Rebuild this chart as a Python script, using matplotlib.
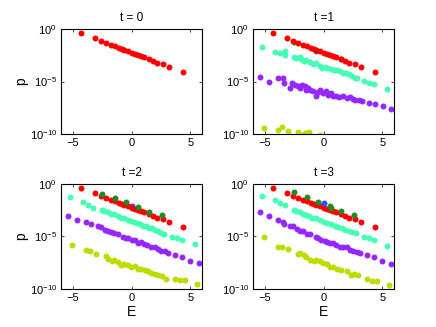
import numpy as np
import matplotlib
matplotlib.use("Agg")
import matplotlib.pyplot as plt

plt.rcParams['font.family'] = ['Liberation Sans', 'DejaVu Sans']
plt.rcParams['mathtext.fontset'] = 'custom'
plt.rcParams['mathtext.rm'] = 'Liberation Sans'
plt.rcParams['mathtext.it'] = 'Liberation Sans:italic'

# ---- data: energy E and log10(p) for each state group ----
red_E = [-4.26, -3.10, -2.56, -2.16, -1.73, -1.42, -1.05, -0.82, -0.60, -0.31, 0.03,
         0.31, 0.54, 0.77, 1.05, 1.45, 1.79, 2.19, 2.64, 3.21, 4.35]
red_logp = [-0.38, -0.90, -1.15, -1.35, -1.51, -1.63, -1.79, -1.92, -1.99, -2.08, -2.24,
            -2.37, -2.44, -2.56, -2.69, -2.85, -3.01, -3.21, -3.37, -3.59, -4.07]

# t = 1
green1_E = [-2.50, -0.60, 1.45]
green1_logp = [-1.20, -2.10, -2.90]
cyan1_E = [-5.20, -4.15, -3.72, -3.30, -3.24, -2.50, -2.30, -2.02, -1.88, -1.68, -1.45,
           -1.11, -0.88, -0.60, -0.31, -0.09, 0.09, 0.31, 0.60, 0.88, 1.16, 1.39, 1.68,
           1.90, 2.19, 2.39, 2.67, 2.81, 3.44, 3.89, 4.29, 5.43]
cyan1_logp = [-1.76, -2.21, -2.31, -2.12, -2.44, -2.69, -2.72, -2.63, -2.88, -3.08, -2.95,
              -3.11, -3.30, -3.27, -3.53, -3.69, -3.59, -3.75, -3.85, -3.94, -3.91, -4.04,
              -4.17, -4.23, -4.33, -4.49, -4.62, -4.65, -4.97, -5.13, -5.26, -5.67]
purple1_E = [-5.43, -4.66, -3.89, -3.44, -3.38, -2.87, -2.70, -2.44, -2.16, -2.02, -1.79,
             -1.59, -1.45, -1.28, -1.11, -0.88, -0.60, -0.45, -0.26, -0.03, 0.20, 0.37,
             0.60, 0.77, 1.05, 1.34, 1.62, 1.96, 2.24, 2.47, 2.70, 2.98, 3.27, 3.84, 4.35,
             5.03, 5.77]
purple1_logp = [-4.55, -5.00, -4.68, -4.68, -5.19, -5.58, -5.19, -5.32, -5.45, -5.64, -5.29,
                -5.45, -5.77, -5.61, -5.77, -5.93, -6.41, -6.03, -5.83, -6.09, -5.93, -6.25,
                -6.09, -6.41, -6.35, -6.47, -6.41, -6.60, -6.47, -6.67, -6.73, -6.79, -6.86,
                -7.05, -7.15, -7.37, -7.63]
yellow1_E = [-5.06, -3.89, -3.52, -3.01, -2.16, -1.73, -1.59, -1.25, -0.31]
yellow1_logp = [-9.39, -9.65, -9.33, -9.68, -9.78, -10.10, -9.94, -9.81, -10.10]

# t = 2
green2_E = [-2.50, -1.39, -0.45, 0.54, 1.45, 2.59]
green2_logp = [-0.96, -1.35, -1.73, -2.15, -2.63, -2.98]
blue2_E = [0.03]
blue2_logp = [-2.10]
cyan2_E = [-5.20, -4.15, -3.72, -3.30, -2.53, -2.30, -2.02, -1.73, -1.45, -1.16, -0.88,
           -0.60, -0.31, -0.03, 0.20, 0.43, 0.71, 0.99, 1.22, 1.51, 1.73, 2.02, 2.24,
           2.53, 2.76, 3.44, 3.89, 4.29, 5.37]
cyan2_logp = [-1.28, -1.73, -1.99, -2.24, -2.44, -2.56, -2.69, -2.82, -2.88, -3.01, -3.21,
              -3.21, -3.40, -3.53, -3.65, -3.72, -3.85, -3.97, -4.04, -4.17, -4.23, -4.36,
              -4.49, -4.62, -4.74, -5.06, -5.13, -5.32, -5.71]
purple2_E = [-5.43, -4.66, -3.89, -3.44, -2.87, -2.59, -2.24, -2.02, -1.73, -1.45, -1.16,
             -0.71, -0.45, -0.26, 0.03, 0.31, 0.54, 0.77, 1.05, 1.34, 1.62, 1.96, 2.24,
             2.53, 2.81, 3.10, 3.72, 4.29, 4.97, 5.77]
purple2_logp = [-3.01, -3.46, -3.65, -3.85, -3.97, -4.10, -4.42, -4.49, -4.55, -4.62, -4.74,
                -5.06, -5.19, -5.13, -5.38, -5.32, -5.58, -5.51, -5.71, -5.77, -5.96, -6.03,
                -6.22, -6.41, -6.35, -6.54, -6.73, -6.92, -7.31, -7.50]
yellow2_E = [-5.06, -3.89, -3.52, -3.01, -2.16, -2.02, -1.68, -1.45, -1.16, -0.88, -0.60,
             -0.31, -0.03, 0.31, 0.54, 0.82, 1.16, 1.39, 1.68, 1.96, 2.24, 2.59, 2.93,
             3.66, 4.12, 4.52, 5.60]
yellow2_logp = [-5.83, -6.25, -6.35, -6.67, -6.86, -7.12, -7.37, -7.24, -7.44, -7.69, -7.63,
                -7.76, -7.88, -7.82, -8.08, -8.14, -8.21, -8.27, -8.46, -8.53, -8.65, -8.72,
                -9.04, -9.04, -9.10, -9.10, -9.49]

# t = 3
green3_E = [-2.50, -1.39, -0.45, 0.54, 0.60, 1.45, 2.59]
green3_logp = [-0.77, -1.28, -1.67, -2.05, -2.24, -2.56, -2.95]
blue3_E = [0.03]
blue3_logp = [-1.79]
cyan3_E = [-5.20, -4.15, -3.72, -3.30, -2.53, -2.30, -2.02, -1.73, -1.51, -1.22, -0.94,
           -0.60, -0.31, 0.03, 0.31, 0.65, 0.94, 1.22, 1.56, 1.85, 2.13, 2.41, 2.76,
           3.44, 3.89, 4.29, 5.37]
cyan3_logp = [-1.15, -1.54, -1.79, -1.99, -2.44, -2.56, -2.69, -2.82, -2.95, -3.08, -3.21,
              -3.21, -3.46, -3.59, -3.72, -3.85, -3.97, -4.10, -4.23, -4.36, -4.49, -4.55,
              -4.68, -5.06, -5.19, -5.32, -5.90]
purple3_E = [-5.43, -4.66, -3.89, -3.44, -3.38, -2.87, -2.59, -2.24, -2.02, -1.73, -1.39,
             -1.16, -0.65, -0.45, -0.20, 0.09, 0.31, 0.54, 0.82, 1.05, 1.39, 1.68, 1.96,
             2.24, 2.53, 2.81, 3.10, 3.72, 4.29, 4.97, 5.77]
purple3_logp = [-2.69, -3.08, -3.40, -3.59, -3.85, -3.97, -3.97, -4.29, -4.49, -4.49, -4.74,
                -4.74, -5.06, -5.19, -5.38, -5.45, -5.51, -5.58, -5.64, -5.83, -5.96, -6.03,
                -6.03, -6.28, -6.41, -6.47, -6.54, -6.79, -6.99, -7.37, -7.63]
yellow3_E = [-5.06, -3.89, -3.52, -3.01, -2.16, -2.02, -1.68, -1.45, -1.11, -0.82, -0.60,
             -0.31, -0.03, 0.31, 0.54, 0.82, 1.16, 1.51, 1.96, 2.30, 2.59, 2.93, 3.66,
             4.12, 4.52, 5.60]
yellow3_logp = [-5.06, -5.96, -5.96, -6.22, -6.67, -6.60, -6.79, -6.99, -7.24, -7.31, -7.24,
                -7.37, -7.50, -7.63, -7.88, -7.95, -8.08, -8.21, -8.33, -8.65, -8.53, -8.65,
                -9.04, -9.23, -9.23, -9.62]

titles = ['t = 0', 't =1', 't =2', 't =3']

RED = '#ff0000'
GREEN = '#1e8c1e'
BLUE = '#2850ff'
CYAN = '#46ffb4'
PURPLE = '#9628ff'
YELLOW = '#bedc00'

# each panel: list of (E, logp, color), drawn in order
panels = [
    [(red_E, red_logp, RED)],
    [(yellow1_E, yellow1_logp, YELLOW), (purple1_E, purple1_logp, PURPLE),
     (cyan1_E, cyan1_logp, CYAN), (green1_E, green1_logp, GREEN),
     (red_E, red_logp, RED)],
    [(yellow2_E, yellow2_logp, YELLOW), (purple2_E, purple2_logp, PURPLE),
     (cyan2_E, cyan2_logp, CYAN), (blue2_E, blue2_logp, BLUE),
     (red_E, red_logp, RED), (green2_E, green2_logp, GREEN)],
    [(yellow3_E, yellow3_logp, YELLOW), (purple3_E, purple3_logp, PURPLE),
     (cyan3_E, cyan3_logp, CYAN), (red_E, red_logp, RED),
     (green3_E, green3_logp, GREEN), (blue3_E, blue3_logp, BLUE)],
]

fig = plt.figure(figsize=(4.36, 3.27), dpi=100)
W, H = 436, 327
boxes = [(61, 29), (253, 29), (61, 184), (253, 184)]
aw, ah = 141, 105

for i, (x0, y0) in enumerate(boxes):
    ax = fig.add_axes([x0 / W, 1 - (y0 + ah) / H, aw / W, ah / H])
    for E, lp, c in panels[i]:
        ax.plot(E, 10 ** np.array(lp), 'o', color=c, markersize=4.3,
                markeredgewidth=0, linestyle='none')
    ax.set_yscale('log')
    ax.set_xlim(-6, 6)
    ax.set_ylim(1e-10, 1e0)
    ax.set_xticks([-5, 0, 5])
    ax.set_xticklabels(['\u22125', '0', '5'])
    ax.set_yticks([1e-10, 1e-5, 1e0])
    ax.set_yticklabels(['$10^{-10}$', '$10^{-5}$', '$10^{0}$'])
    ax.minorticks_off()
    ax.tick_params(direction='in', top=True, right=True, length=2.5, width=0.5,
                   labelsize=8, pad=3)
    for s in ax.spines.values():
        s.set_linewidth(0.8)
    ax.set_title(titles[i], fontsize=8.5, pad=6)
    if i in (0, 2):
        ax.set_ylabel('p', fontsize=10, labelpad=1)
    if i in (2, 3):
        ax.set_xlabel('E', fontsize=10, labelpad=1)

fig.savefig('out.png', dpi=100)
